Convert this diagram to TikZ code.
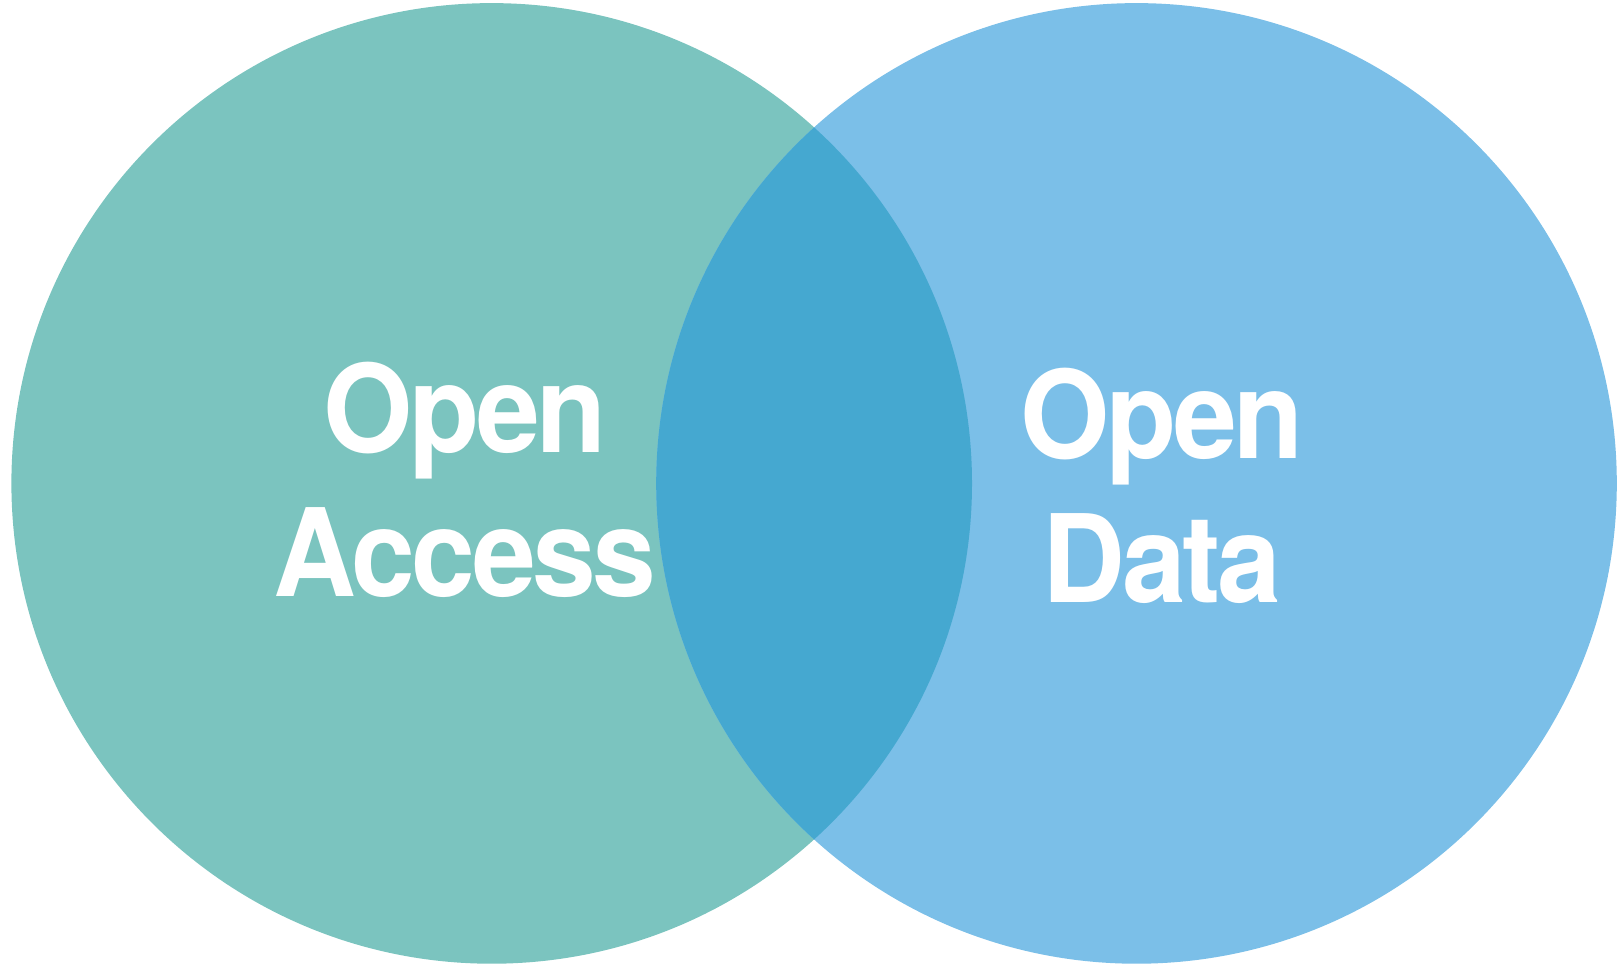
\documentclass[tikz,border=0pt]{standalone}
\usepackage{fontspec}
\setmainfont{TeX Gyre Heros}[LetterSpace=-3]
\usepackage{xcolor}
\usepackage{tikz}

\definecolor{access}{HTML}{7BC4BF}
\definecolor{data}{HTML}{7BBFE8}
\definecolor{both}{HTML}{45A8D0}

% slightly condensed word
\newcommand{\tightword}[1]{\scalebox{0.94}[1]{#1}}

\begin{document}
\begin{tikzpicture}[x=0.5pt,y=-0.5pt]
	\tikzset{big word/.style={text=white,inner sep=0pt,align=center,anchor=base,
			font=\bfseries\fontsize{61}{72}\selectfont}}
	\useasboundingbox (0,0) rectangle (1623,966);
	\coordinate (oa) at (491.7,483.4);
	\coordinate (od) at (1136.5,483.4);

	% two sets and their overlap
	\fill[access] (oa) circle[radius=480.3];
	\fill[data] (od) circle[radius=480.3];
	\begin{scope}
		\clip (oa) circle[radius=480.3];
		\fill[both] (od) circle[radius=480.3];
	\end{scope}

	% base anchor sits on the last line
	\node[big word] (oatext) at (465,596) {\tightword{Open}\\\tightword{Access}};
	\node[big word] (odtext) at (1162,602) {\tightword{Open}\\\tightword{Data}};
\end{tikzpicture}
\end{document}
